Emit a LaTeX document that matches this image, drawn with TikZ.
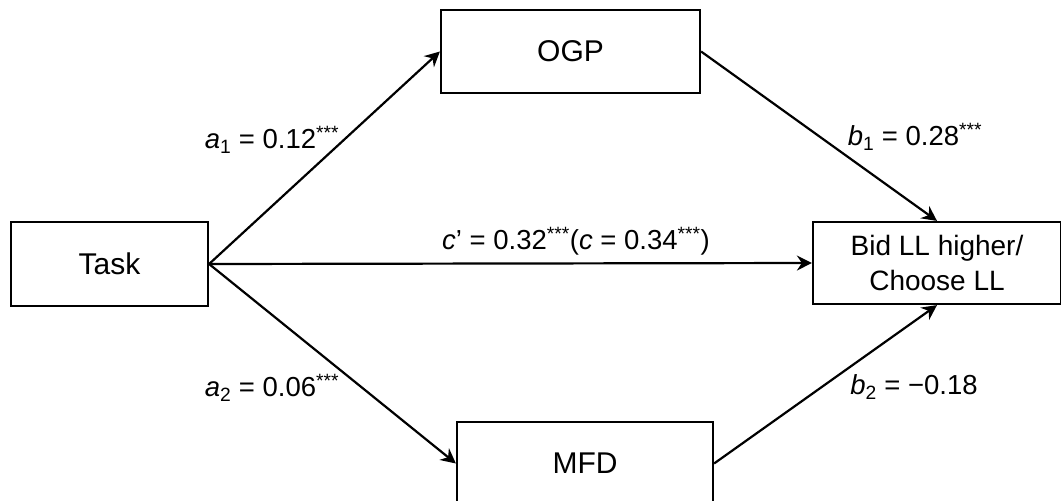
\documentclass[tikz,border=0pt]{standalone}
\usepackage{fontspec}
\setmainfont{Liberation Sans}
\usetikzlibrary{arrows.meta}
\tikzset{
  box/.style={draw, line width=2.2pt, inner sep=0pt, align=center,
    font=\fontsize{30}{35}\selectfont},
  conn/.style={line width=2.2pt, -{Stealth[length=15pt,width=15pt,inset=5pt]}},
  lab/.style={inner sep=0pt, font=\fontsize{27.5}{32}\selectfont}
}
\newcommand{\stars}{\textsuperscript{***}}
\begin{document}
\begin{tikzpicture}[x=1pt,y=-1pt]
\useasboundingbox (0,0) rectangle (1061,501);
\clip (0,0) rectangle (1061,501);
\fill[white] (0,0) rectangle (1061,501);
\node[box, minimum width=259pt, minimum height=83pt] (ogp) at (570.5,51.5) {OGP};
\node[box, minimum width=197pt, minimum height=84pt] (task) at (109.5,264) {Task};
\node[box, minimum width=248pt, minimum height=82pt, font=\fontsize{28}{35}\selectfont] (bid) at (937,263) {Bid LL higher/\\Choose LL};
\node[box, minimum width=256pt, minimum height=83pt] (mfd) at (585,463.5) {MFD};
\draw[conn] (task.east) -- (ogp.west);
\draw[conn] (task.east) -- (bid.west);
\draw[conn] (task.east) -- (mfd.west);
\draw[conn] (ogp.east) -- (bid.north);
\draw[conn] (mfd.east) -- (bid.south);
\node[lab] (la1) at (272,140) {\textit{a}\textsubscript{1} = 0.12\stars};
\node[lab] (lb1) at (915,137) {\textit{b}\textsubscript{1} = 0.28\stars};
\node[lab] (lc) at (576,241) {\textit{c}’ = 0.32\stars(\textit{c} = 0.34\stars)};
\node[lab] (la2) at (272,388) {\textit{a}\textsubscript{2} = 0.06\stars};
\node[lab] (lb2) at (914,387) {\textit{b}\textsubscript{2} = −0.18};
\end{tikzpicture}
\end{document}
